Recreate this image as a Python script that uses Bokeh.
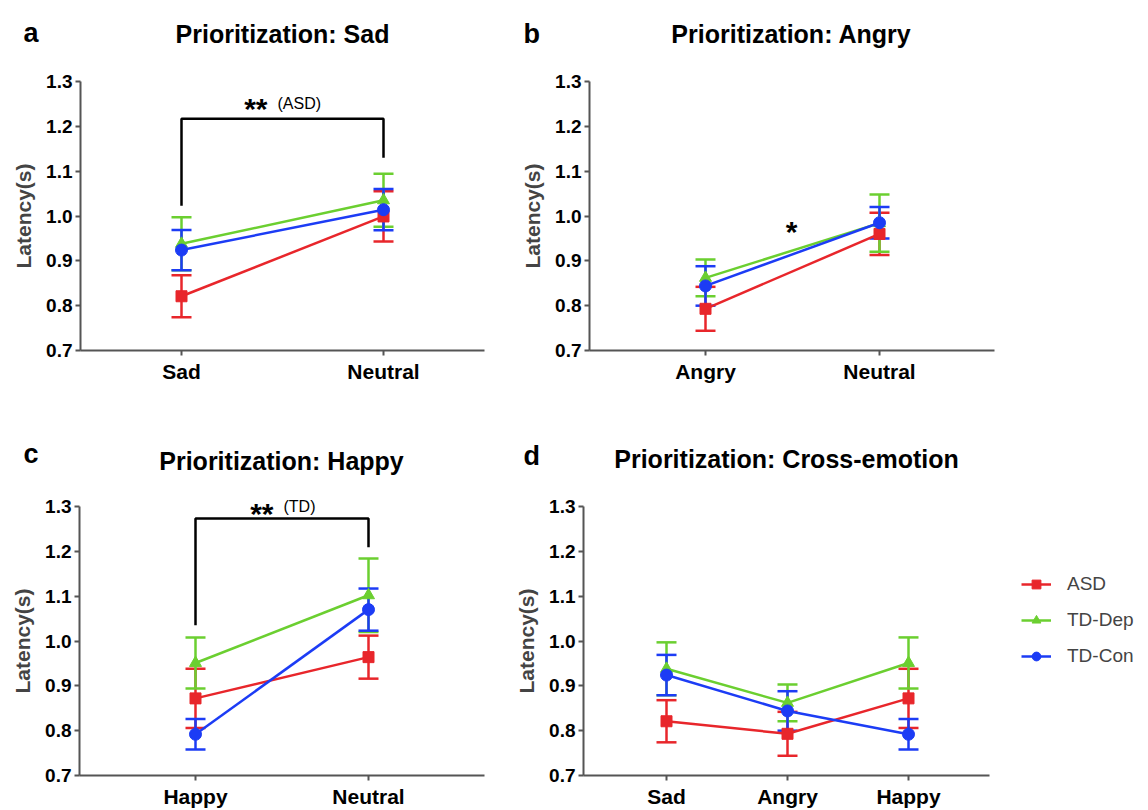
from bokeh.plotting import figure
from bokeh.models import (Range1d, FixedTicker, PrintfTickFormatter, Whisker, TeeHead,
                          ColumnDataSource, Label, Legend, LegendItem)
from bokeh.layouts import row, column
from bokeh.embed import file_html
from bokeh.resources import INLINE

FONT = "Liberation Sans"

# ---------------- data ----------------
groups = ["ASD", "TD-Dep", "TD-Con"]

# Panel a: Prioritization: Sad
sad_cats = ["Sad", "Neutral"]
sad_asd = [0.821, 0.999]
sad_asd_err = [0.047, 0.056]
sad_dep = [0.938, 1.035]
sad_dep_err = [0.059, 0.059]
sad_con = [0.924, 1.014]
sad_con_err = [0.045, 0.046]

# Panel b: Prioritization: Angry
angry_cats = ["Angry", "Neutral"]
angry_asd = [0.793, 0.960]
angry_asd_err = [0.049, 0.047]
angry_dep = [0.862, 0.984]
angry_dep_err = [0.041, 0.064]
angry_con = [0.844, 0.985]
angry_con_err = [0.044, 0.035]

# Panel c: Prioritization: Happy
happy_cats = ["Happy", "Neutral"]
happy_asd = [0.872, 0.964]
happy_asd_err = [0.066, 0.048]
happy_dep = [0.951, 1.102]
happy_dep_err = [0.057, 0.082]
happy_con = [0.792, 1.070]
happy_con_err = [0.034, 0.047]

# Panel d: Prioritization: Cross-emotion
cross_cats = ["Sad", "Angry", "Happy"]
cross_asd = [0.821, 0.793, 0.872]
cross_asd_err = [0.047, 0.049, 0.066]
cross_dep = [0.938, 0.862, 0.951]
cross_dep_err = [0.059, 0.041, 0.057]
cross_con = [0.924, 0.844, 0.792]
cross_con_err = [0.045, 0.044, 0.034]

y_ticks = [0.7, 0.8, 0.9, 1.0, 1.1, 1.2, 1.3]

# significance brackets (x index, latency)
bracket_a_x = [0, 0, 1, 1]
bracket_a_y = [1.023, 1.217, 1.217, 1.130]
bracket_c_x = [0, 0, 1, 1]
bracket_c_y = [1.035, 1.273, 1.273, 1.209]

# ---------------- styles / geometry ----------------
colors = {"ASD": "#E8262B", "TD-Dep": "#6BCF30", "TD-Con": "#1C3CF5"}
markers = {"ASD": "square", "TD-Dep": "triangle", "TD-Con": "circle"}
msize = {"ASD": 11, "TD-Dep": 12, "TD-Con": 12}
YLO, YHI = 0.7, 1.3


class Geo:
    """Panel geometry in page pixels: figure box, category anchors, axis extents."""

    def __init__(self, ox, oy, w, h, sx_first, sx_last, n, sy_top, sy_bot, ax_left, ax_right):
        self.ox, self.oy, self.w, self.h = ox, oy, w, h
        self.sx0 = sx_first
        self.kx = (sx_last - sx_first) / (n - 1)
        self.sy_top = sy_top
        self.ky = (sy_bot - sy_top) / (YHI - YLO)
        self.ax_left, self.ax_right = ax_left, ax_right

    def xd(self, sx):
        return (sx - self.sx0) / self.kx

    def yd(self, sy):
        return YHI - (sy - self.sy_top) / self.ky

    def x_range(self):
        return Range1d(self.xd(self.ox), self.xd(self.ox + self.w))

    def y_range(self):
        return Range1d(self.yd(self.oy + self.h), self.yd(self.oy))


def make_panel(geo, cats, series, legend=False):
    p = figure(width=geo.w, height=geo.h, output_backend="svg", toolbar_location=None,
               x_range=geo.x_range(), y_range=geo.y_range(),
               min_border_left=0, min_border_right=0, min_border_top=0, min_border_bottom=0)
    p.outline_line_color = None
    p.xgrid.visible = False
    p.ygrid.visible = False
    p.background_fill_color = "white"
    p.border_fill_color = "white"

    xax, yax = p.xaxis[0], p.yaxis[0]
    for ax in (xax, yax):
        ax.axis_line_color = "#555555"
        ax.axis_line_width = 2
        ax.major_tick_line_color = "#555555"
        ax.major_tick_line_width = 2
        ax.major_tick_out = 5
        ax.major_tick_in = 0
        ax.minor_tick_line_color = None
        ax.major_label_text_font = FONT
        ax.major_label_text_font_style = "bold"
        ax.major_label_text_color = "black"

    yax.fixed_location = geo.xd(geo.ax_left)
    yax.bounds = (YLO, YHI)
    yax.ticker = FixedTicker(ticks=y_ticks)
    yax.formatter = PrintfTickFormatter(format="%.1f")
    yax.major_label_text_font_size = "19px"
    yax.major_label_standoff = 3
    yax.axis_label = "Latency(s)"
    yax.axis_label_text_font = FONT
    yax.axis_label_text_font_style = "bold"
    yax.axis_label_text_font_size = "21px"
    yax.axis_label_standoff = 8

    xs = list(range(len(cats)))
    xax.fixed_location = YLO
    xax.bounds = (geo.xd(geo.ax_left), geo.xd(geo.ax_right))
    xax.ticker = FixedTicker(ticks=xs)
    xax.major_label_overrides = {i: c for i, c in enumerate(cats)}
    xax.major_label_text_font_size = "21px"
    xax.major_label_standoff = 4

    items = []
    for g in ["ASD", "TD-Dep", "TD-Con"]:
        vals, errs = series[g]
        src = ColumnDataSource(dict(x=xs, y=vals,
                                    upper=[v + e for v, e in zip(vals, errs)],
                                    lower=[v - e for v, e in zip(vals, errs)]))
        c = colors[g]
        w = Whisker(source=src, base="x", upper="upper", lower="lower", dimension="height",
                    line_color=c, line_width=2.5,
                    upper_head=TeeHead(size=20, line_color=c, line_width=2.5),
                    lower_head=TeeHead(size=20, line_color=c, line_width=2.5))
        p.add_layout(w)
        lr = p.line("x", "y", source=src, line_color=c, line_width=2.5)
        sr = p.scatter("x", "y", source=src, marker=markers[g], size=msize[g],
                       fill_color=c, line_color=c)
        items.append(LegendItem(label=g, renderers=[lr, sr]))

    if legend:
        # legend box placement in page pixels (left edge, top edge, height)
        box_left, box_top, box_h = 1021, 553, 114
        lx = box_left - geo.ox
        ly = (geo.oy + geo.h) - (box_top + box_h)
        lg = Legend(items=items, location=(lx, ly), margin=0, padding=10,
                    glyph_width=30, glyph_height=22, label_height=22, spacing=14,
                    label_standoff=16, label_text_font=FONT, label_text_font_size="19px",
                    border_line_color=None, background_fill_alpha=0)
        p.add_layout(lg, "center")
    return p


def lab(p, geo, sx, sy, text, size, bold=True, align="left"):
    p.add_layout(Label(x=geo.xd(sx), y=geo.yd(sy), text=text, text_font=FONT,
                       text_font_style="bold" if bold else "normal",
                       text_font_size=size, text_align=align, text_baseline="alphabetic",
                       text_color="black"))


ga = Geo(0, 0, 500, 420, 181, 383, 2, 81, 350, 80, 484)
gb = Geo(500, 0, 646, 420, 705, 879, 2, 81, 350, 589, 994)
gc = Geo(0, 420, 500, 388, 195, 368, 2, 506, 775, 79, 484)
gd = Geo(500, 420, 646, 388, 666, 908, 3, 506, 775, 583, 989)

pa = make_panel(ga, sad_cats, {"ASD": (sad_asd, sad_asd_err), "TD-Dep": (sad_dep, sad_dep_err),
                               "TD-Con": (sad_con, sad_con_err)})
pb = make_panel(gb, angry_cats, {"ASD": (angry_asd, angry_asd_err), "TD-Dep": (angry_dep, angry_dep_err),
                                 "TD-Con": (angry_con, angry_con_err)})
pc = make_panel(gc, happy_cats, {"ASD": (happy_asd, happy_asd_err), "TD-Dep": (happy_dep, happy_dep_err),
                                 "TD-Con": (happy_con, happy_con_err)})
pd_ = make_panel(gd, cross_cats, {"ASD": (cross_asd, cross_asd_err), "TD-Dep": (cross_dep, cross_dep_err),
                                  "TD-Con": (cross_con, cross_con_err)}, legend=True)

# brackets
pa.line(bracket_a_x, bracket_a_y, line_color="black", line_width=2.5)
pc.line(bracket_c_x, bracket_c_y, line_color="black", line_width=2.5)

# panel letters, titles, significance marks
lab(pa, ga, 23, 32, "a", "27px")
lab(pa, ga, 282, 33, "Prioritization: Sad", "25px", align="center")
lab(pa, ga, 267, 108, "**", "30px", align="right")
lab(pa, ga, 277, 103, "(ASD)", "16px", bold=False)

lab(pb, gb, 523, 33, "b", "27px")
lab(pb, gb, 791, 33, "Prioritization: Angry", "25px", align="center")
lab(pb, gb, 791, 231, "*", "30px", align="center")

lab(pc, gc, 23, 453, "c", "27px")
lab(pc, gc, 281, 460, "Prioritization: Happy", "25px", align="center")
lab(pc, gc, 273, 513, "**", "30px", align="right")
lab(pc, gc, 283, 506, "(TD)", "16px", bold=False)

lab(pd_, gd, 523, 455, "d", "27px")
lab(pd_, gd, 786, 458, "Prioritization: Cross-emotion", "25px", align="center")

layout = row(column(pa, pc), column(pb, pd_))
open("out.html", "w").write(file_html(layout, INLINE))
